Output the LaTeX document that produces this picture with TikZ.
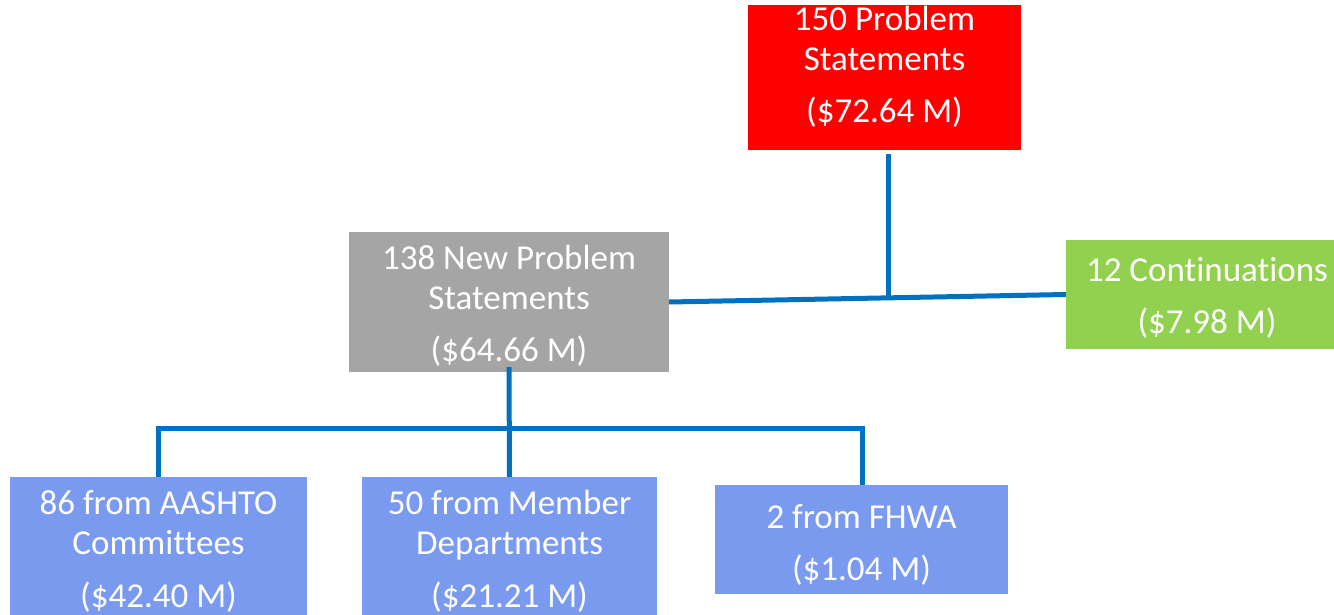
\documentclass[tikz,border=0pt]{standalone}
\usepackage{fontspec}
\setmainfont{Carlito}[Ligatures=NoCommon]
\definecolor{linkblue}{HTML}{0070C0}
\definecolor{topred}{HTML}{FF0000}
\definecolor{newgray}{HTML}{A5A5A5}
\definecolor{contgreen}{HTML}{92D050}
\definecolor{srcblue}{HTML}{7A9AF0}
\tikzset{
  box/.style={draw=none, text=white, align=center, inner sep=0pt,
    font=\fontsize{35}{40}\selectfont},
  conn/.style={draw=linkblue, line width=5pt}
}
\begin{document}
\begin{tikzpicture}[x=1pt, y=-1pt]
                    \useasboundingbox (0,0) rectangle (1334,615);
                    \clip (0,0) rectangle (1334,615);

                    % Top box
                    \node [box, fill=topred, minimum width=273pt, minimum height=145pt] (prob) at (884.5,77.5)
                      {150 Problem\\Statements\\[12pt](\$72.64 M)\rule[-26pt]{0pt}{26pt}};%

                    % New problem statements
                    \node [box, fill=newgray, minimum width=320pt, minimum height=140pt] (newprob) at (509,302)
                      {\rule{0pt}{32pt}138 New Problem\\Statements\\[12pt](\$64.66 M)};%

                    % Continuations
                    \node [box, fill=contgreen, minimum width=282pt, minimum height=109pt] (cont) at (1207,294.5)
                      {\rule{0pt}{30pt}12 Continuations\\[12pt](\$7.98 M)};%

                    % Sources
                    \node [box, fill=srcblue, minimum width=297pt, minimum height=148pt] (aashto) at (158.5,551)
                      {86 from AASHTO\\Committees\\[13pt](\$42.40 M)};%
                    \node [box, fill=srcblue, minimum width=295pt, minimum height=148pt] (member) at (509.5,551)
                      {50 from Member\\Departments\\[13pt](\$21.21 M)};%
                    \node [box, fill=srcblue, minimum width=293pt, minimum height=109pt] (fhwa) at (861.5,539.5)
                      {\rule{0pt}{34pt}2 from FHWA\\[12pt](\$1.04 M)};%

                    % Upper connectors
                    \draw [conn] (newprob.east) -- (cont.west) coordinate [pos=0.552] (junc);%
                    \draw [conn] (junc |- prob.south) ++(0,4) -- (junc);%

                    % Lower connectors
                    \coordinate (busl) at (158,428);%
                    \coordinate (busr) at (862,428);%
                    \draw [conn] (aashto.north -| busl) -- (busl) -- (busr) -- (fhwa.north -| busr);%
                    \draw [conn] ([yshift=5pt]newprob.south) -- (member.north);%
\end{tikzpicture}
\end{document}
